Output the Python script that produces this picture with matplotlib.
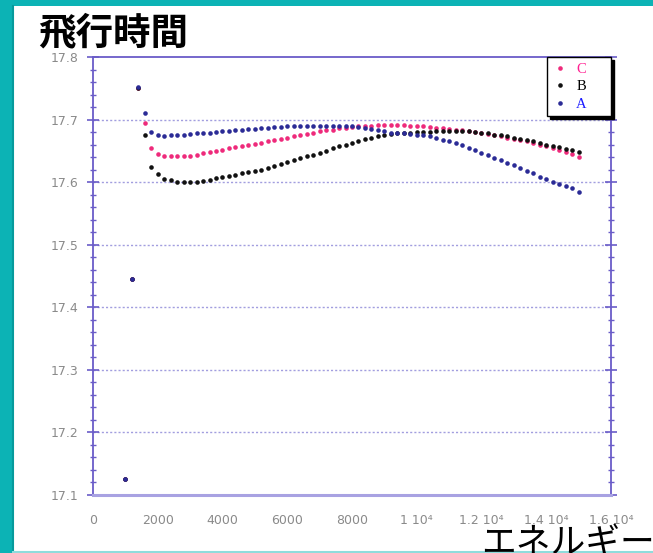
import matplotlib
matplotlib.use("Agg")
import matplotlib.pyplot as plt
from matplotlib.patches import Rectangle
from matplotlib.lines import Line2D
from matplotlib.ticker import MultipleLocator, FixedLocator

plt.rcParams['font.family'] = ['DejaVu Sans']

# ---------------- data ----------------
energy = list(range(1000, 15001, 200))

series_A = [17.125, 17.445, 17.752, 17.711, 17.680, 17.676, 17.674, 17.675, 17.675, 17.676,
            17.677, 17.678, 17.679, 17.679, 17.680, 17.681, 17.682, 17.683, 17.684, 17.685,
            17.685, 17.686, 17.687, 17.688, 17.688, 17.689, 17.690, 17.690, 17.690, 17.690,
            17.690, 17.690, 17.690, 17.690, 17.689, 17.689, 17.688, 17.687, 17.685, 17.683,
            17.681, 17.679, 17.678, 17.678, 17.677, 17.676, 17.675, 17.673, 17.670, 17.668,
            17.665, 17.662, 17.659, 17.655, 17.651, 17.647, 17.643, 17.639, 17.635, 17.631,
            17.627, 17.623, 17.618, 17.614, 17.609, 17.605, 17.601, 17.597, 17.594, 17.590,
            17.585]

series_B = [17.125, 17.445, 17.750, 17.675, 17.624, 17.613, 17.605, 17.603, 17.601, 17.600,
            17.600, 17.601, 17.602, 17.604, 17.606, 17.608, 17.610, 17.612, 17.614, 17.616,
            17.618, 17.620, 17.623, 17.626, 17.629, 17.632, 17.635, 17.638, 17.641, 17.644,
            17.647, 17.650, 17.654, 17.657, 17.660, 17.663, 17.666, 17.669, 17.671, 17.673,
            17.675, 17.677, 17.678, 17.679, 17.679, 17.680, 17.680, 17.680, 17.681, 17.681,
            17.681, 17.682, 17.681, 17.681, 17.680, 17.679, 17.678, 17.676, 17.675, 17.673,
            17.671, 17.669, 17.667, 17.665, 17.663, 17.660, 17.658, 17.656, 17.653, 17.651,
            17.648]

series_C = [17.125, 17.445, 17.750, 17.695, 17.654, 17.645, 17.642, 17.641, 17.641, 17.641,
            17.642, 17.644, 17.646, 17.648, 17.650, 17.652, 17.654, 17.656, 17.658, 17.659,
            17.661, 17.663, 17.665, 17.667, 17.669, 17.671, 17.673, 17.675, 17.677, 17.679,
            17.681, 17.683, 17.684, 17.686, 17.687, 17.688, 17.689, 17.690, 17.690, 17.691,
            17.691, 17.691, 17.691, 17.691, 17.690, 17.690, 17.689, 17.688, 17.687, 17.686,
            17.685, 17.684, 17.683, 17.682, 17.680, 17.679, 17.677, 17.675, 17.673, 17.671,
            17.669, 17.667, 17.665, 17.662, 17.660, 17.657, 17.654, 17.651, 17.648, 17.645,
            17.640]

x_ticks = [0, 2000, 4000, 6000, 8000, 10000, 12000, 14000, 16000]
x_tick_labels = ["0", "2000", "4000", "6000", "8000", "1 10\u2074", "1.2 10\u2074",
                 "1.4 10\u2074", "1.6 10\u2074"]
y_ticks = [17.1, 17.2, 17.3, 17.4, 17.5, 17.6, 17.7, 17.8]
title_text = "飛行時間"
xlabel_text = "エネルギー"

# ---------------- figure ----------------
W, H = 653, 553
fig = plt.figure(figsize=(W / 100, H / 100), dpi=100)
fig.patch.set_facecolor('#0cb3b5')
# white panel
fig.patches.append(Rectangle((13 / W, 0), 1, 1 - 6 / H, transform=fig.transFigure,
                             facecolor='white', edgecolor='none', zorder=-5))
fig.lines.append(Line2D([13 / W, 13 / W], [0, 1 - 6 / H], transform=fig.transFigure,
                        color='#069a9c', lw=1.5, zorder=-4))
fig.lines.append(Line2D([13 / W, 1], [1.5 / H, 1.5 / H], transform=fig.transFigure,
                        color='#8fdcdc', lw=1.5, zorder=-4))

ax_left, ax_right, ax_top, ax_bottom = 93, 611, 57, 495
ax = fig.add_axes([ax_left / W, 1 - ax_bottom / H, (ax_right - ax_left) / W, (ax_bottom - ax_top) / H])
ax.set_facecolor('white')

spine_col = '#6a5cc8'
grid_col = '#a29edf'

ax.set_xlim(0, 16000)
ax.set_ylim(17.1, 17.8)

for yv in y_ticks[1:-1]:
    ax.axhline(yv, color=grid_col, lw=1.0, ls=(0, (1.5, 1.5)), zorder=1)

ms = 3.3
ax.plot(energy, series_C, ls='none', marker='o', ms=ms, mec='none', color='#ee2a7b', label='C', zorder=3)
ax.plot(energy, series_B, ls='none', marker='o', ms=ms, mec='none', color='#111111', label='B', zorder=3)
ax.plot(energy, series_A, ls='none', marker='o', ms=ms, mec='none', color='#2b2b96', label='A', zorder=3)

ax.xaxis.set_major_locator(FixedLocator(x_ticks))
ax.set_xticklabels(x_tick_labels)
ax.yaxis.set_major_locator(FixedLocator(y_ticks))
ax.set_yticklabels([f"{v:.1f}" for v in y_ticks])
ax.yaxis.set_minor_locator(MultipleLocator(0.02))

ax.tick_params(axis='x', length=0, pad=14, labelsize=9, labelcolor='#8a8a8a')
ax.tick_params(axis='y', which='major', direction='inout', length=9, width=1.2,
               color=spine_col, left=True, right=True, labelsize=9, labelcolor='#8a8a8a', pad=6)
ax.tick_params(axis='y', which='minor', direction='inout', length=4.5, width=1.0,
               color=spine_col, left=True, right=True)

for side in ['left', 'right', 'top']:
    ax.spines[side].set_color(spine_col)
    ax.spines[side].set_linewidth(1.3)
ax.spines['bottom'].set_color('#a8a2e2')
ax.spines['bottom'].set_linewidth(2.2)

# legend box: about 64 px wide, anchored to the top-right corner of the axes
aw = ax_right - ax_left
leg_w = 64 / aw
leg = ax.legend(loc='upper left', bbox_to_anchor=(1 - leg_w, 0, leg_w, 1.0), mode='expand',
                borderaxespad=0.0, frameon=True, fancybox=False,
                shadow={'color': 'black', 'alpha': 1.0},
                prop={'family': 'Liberation Serif', 'size': 10.5},
                handlelength=1.0, handletextpad=0.6, labelspacing=0.28,
                borderpad=0.4, markerscale=1.0, edgecolor='black')
leg.get_frame().set_linewidth(1.0)
for txt, col in zip(leg.get_texts(), ['#ff1e90', '#000000', '#1a1aff']):
    txt.set_color(col)

fig.text(38 / W, 1 - 45 / H, title_text, fontsize=27, fontweight='bold',
         family=['Noto Sans CJK JP', 'DejaVu Sans'], ha='left', va='baseline', color='black')
fig.text(1.0 + 2 / W, -8 / H, xlabel_text, fontsize=25,
         family=['Noto Sans CJK JP', 'DejaVu Sans'], ha='right', va='bottom', color='black')

fig.savefig('out.png', dpi=100, facecolor=fig.get_facecolor())
